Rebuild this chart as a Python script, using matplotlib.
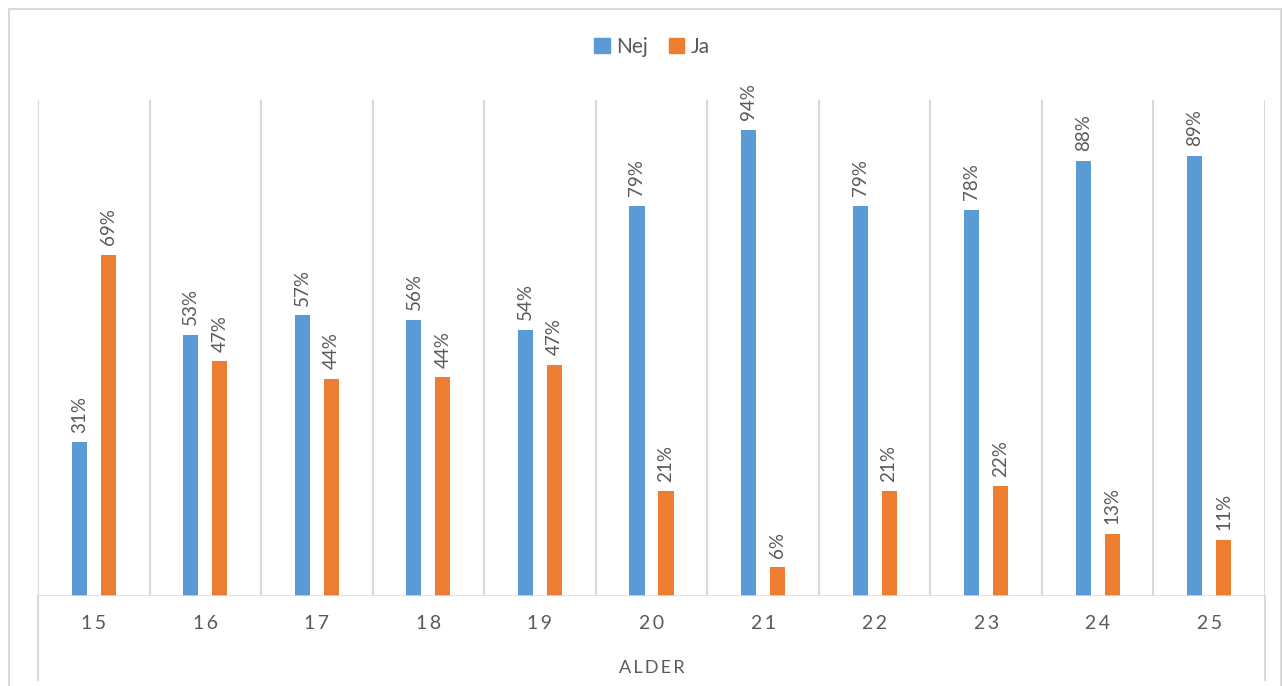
import matplotlib
matplotlib.use('Agg')
import matplotlib.pyplot as plt
import numpy as np
from matplotlib.patches import Rectangle, Patch

# data
ages = ['15', '16', '17', '18', '19', '20', '21', '22', '23', '24', '25']
nej = [0.31, 0.527, 0.566, 0.557, 0.537, 0.786, 0.94, 0.786, 0.778, 0.878, 0.887]
ja = [0.688, 0.473, 0.438, 0.441, 0.466, 0.211, 0.058, 0.211, 0.221, 0.126, 0.113]

blue = '#5B9BD5'
orange = '#ED7D31'
grid = '#D9D9D9'
txt = '#595959'

plt.rcParams['font.family'] = ['Lato', 'DejaVu Sans']

W, H = 1284, 686
fig = plt.figure(figsize=(W / 100, H / 100), dpi=100)
ax = fig.add_axes([38 / W, 1 - 596 / H, (1265 - 38) / W, (596 - 100) / H])

x = np.arange(len(ages))
bw = 0.135
off = 0.13
ax.bar(x - off, nej, bw, color=blue, zorder=3)
ax.bar(x + off, ja, bw, color=orange, zorder=3)

# data labels, rotated like the Excel chart
for xi, v in zip(x - off, nej):
    ax.annotate(f"{v:.0%}", (xi, v), xytext=(0, 7), textcoords='offset points',
                rotation=90, ha='center', va='bottom', color=txt, fontsize=13.5)
for xi, v in zip(x + off, ja):
    ax.annotate(f"{v:.0%}", (xi, v), xytext=(0, 7), textcoords='offset points',
                rotation=90, ha='center', va='bottom', color=txt, fontsize=13.5)

ax.set_xlim(-0.5, len(ages) - 0.5)
ax.set_ylim(0, 1.0)
ax.set_yticks([])

# vertical lines between categories
for b in np.arange(-0.5, len(ages), 1.0):
    ax.axvline(b, color=grid, lw=1.5, zorder=1)
# outer ones go down through the label area
for b in [-0.5, len(ages) - 0.5]:
    ax.plot([b, b], [0, -0.17], color=grid, lw=1.5, clip_on=False,
            transform=ax.get_xaxis_transform())
ax.axhline(0, color=grid, lw=1.8, zorder=4)

for s in ax.spines.values():
    s.set_visible(False)

ax.set_xticks(x)
ax.set_xticklabels(['\u2009'.join(a) for a in ages], fontsize=14, color=txt)
ax.tick_params(axis='x', length=0, pad=14)
ax.set_xlabel('\u2009'.join('ALDER'), fontsize=13, color=txt, labelpad=20)

# legend on top
handles = [Patch(color=blue, label='Nej'), Patch(color=orange, label='Ja')]
leg = fig.legend(handles=handles, loc='center', bbox_to_anchor=(652 / W, 1 - 47 / H),
                 ncol=2, frameon=False, fontsize=15, handlelength=0.75, handleheight=0.75,
                 handletextpad=0.3, columnspacing=1.0)
for t in leg.get_texts():
    t.set_color(txt)

# chart border
fig.patches.append(Rectangle((9 / W, -0.01), (1281 - 9) / W, 1 - 9 / H + 0.01,
                             transform=fig.transFigure, fill=False, edgecolor=grid, lw=1.5))

fig.savefig('out.png', dpi=100)
